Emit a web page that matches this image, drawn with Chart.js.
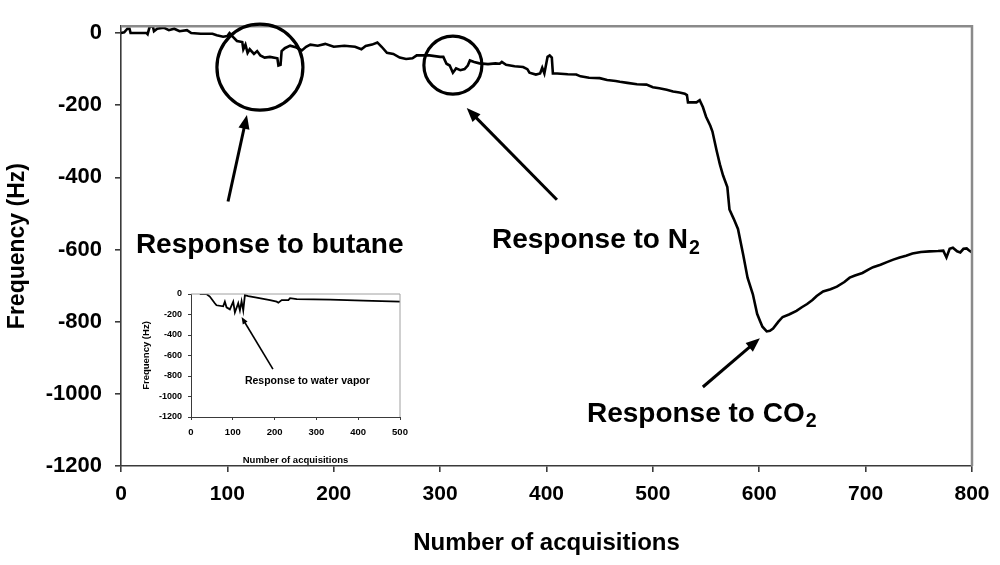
<!DOCTYPE html>
<html><head><meta charset="utf-8">
<script src="https://cdn.jsdelivr.net/npm/chart.js@4.4.1/dist/chart.umd.min.js"></script>
<style>
html,body{margin:0;padding:0;background:#fff;}
#wrap{position:relative;width:1000px;height:565px;overflow:hidden;}
#main{position:absolute;left:0;top:0;}
#inset{position:absolute;left:130px;top:280px;}
</style></head><body>
<div id="wrap"><canvas id="main" width="1000" height="565"></canvas><canvas id="inset" width="290" height="190"></canvas></div>
<script>
// ---- data: main chart ----
const mainX = [0,3,6,8,9,13,24,25,27,30,31,34,40,45,50,55,62,66,75,86,90,96,100,102,105,109,114,115,117,119,121,125,128,131,135,140,147,148,150,151,154,159,165,170,174,178,185,192,200,210,220,226,230,236,241,245,250,256,262,268,274,278,290,300,303,306,309,312,315,319,323,326,328,332,337,345,352,356,358,362,370,378,382,384,390,394,396,398,401,403,405,406,410,420,428,432,440,450,457,465,469,476,485,494,500,506,513,519,525,530,532,533,541,544,547,550,554,556,560,563,566,570,572,576,580,585,589,594,598,601,603,607,610,613,618,622,628,635,640,645,650,654,660,667,673,680,685,690,697,703,707,714,720,726,732,738,744,752,760,768,773,776,779,782,786,789,792,795,797,800];
const mainY = [0,2,12,12,0,0,0,-3,18,18,5,12,15,8,12,5,8,0,-2,-2,-6,-10,-8,0,-10,-22,-25,-45,-32,-55,-45,-58,-50,-62,-68,-66,-70,-90,-88,-50,-42,-35,-40,-48,-38,-32,-35,-30,-38,-35,-38,-45,-36,-32,-26,-38,-55,-58,-68,-72,-70,-62,-62,-66,-66,-85,-90,-110,-98,-103,-100,-90,-76,-80,-84,-86,-84,-85,-80,-88,-92,-94,-100,-110,-115,-112,-96,-112,-66,-62,-68,-112,-112,-114,-115,-120,-124,-125,-130,-133,-135,-138,-142,-143,-150,-153,-157,-162,-165,-168,-172,-192,-192,-186,-205,-232,-257,-273,-327,-364,-395,-427,-489,-515,-543,-616,-678,-724,-778,-800,-814,-827,-825,-819,-800,-787,-780,-770,-760,-751,-740,-729,-716,-710,-703,-690,-678,-672,-665,-655,-649,-642,-635,-628,-622,-617,-611,-607,-605,-604,-603,-622,-598,-595,-605,-608,-598,-597,-602,-608];
const mainXTicks = [0,100,200,300,400,500,600,700,800];
const mainYTicks = [0,-200,-400,-600,-800,-1000,-1200];
// ---- data: inset chart ----
const insetX = [21,37,45,57,61,77,81,85,93,101,105,113,117,121,125,129,137,157,189,205,209,217,233,237,253,333,412,500];
const insetY = [0,0,-25,-90,-110,-120,-75,-130,-150,-75,-180,-90,-160,-70,-160,-10,-20,-35,-60,-75,-85,-60,-60,-40,-50,-55,-65,-75];
const insetXTicks = [0,100,200,300,400,500];
const insetYTicks = [0,-200,-400,-600,-800,-1000,-1200];
// ---- annotations (data coordinates) ----
const mainNotes = [
  {type:'circle', x:130.6, y:-94.6, r:43, lw:3.2},
  {type:'circle', x:312, y:-89, r:29, lw:3.2},
  {type:'arrow', x1:100.6, y1:-467, x2:118.4, y2:-227, lw:3, head:14},
  {type:'arrow', x1:409.8, y1:-462, x2:325, y2:-208, lw:3, head:14},
  {type:'arrow', x1:547, y1:-981, x2:600.6, y2:-846, lw:3, head:14},
  {type:'text', x:14, y:-581, text:'Response to butane', size:28},
  {type:'text', x:348.7, y:-568, text:'Response to N', sub:'2', size:28},
  {type:'text', x:438, y:-1049, text:'Response to CO', sub:'2', size:28}
];
const insetNotes = [
  {type:'arrow', x1:196, y1:-733, x2:121, y2:-225, lw:1.6, head:7},
  {type:'text', x:129, y:-841, text:'Response to water vapor', size:10.5}
];

const FONT = "'Liberation Sans', Arial, Helvetica, sans-serif";

const notesPlugin = {
  id:'notes',
  afterDraw(chart, args, opts){
    const ctx = chart.ctx, xs = chart.scales.x, ys = chart.scales.y;
    const ca = chart.chartArea;
    ctx.save();
    ctx.strokeStyle = opts.frameColor; ctx.lineWidth = opts.frameWidth;
    ctx.beginPath();
    ctx.moveTo(ca.left, ca.top); ctx.lineTo(ca.right, ca.top); ctx.lineTo(ca.right, ca.bottom);
    ctx.stroke();
    ctx.restore();
    (opts.items||[]).forEach(n=>{
      ctx.save();
      ctx.strokeStyle = '#000'; ctx.fillStyle = '#000';
      if(n.type==='circle'){
        ctx.lineWidth = n.lw;
        ctx.beginPath();
        ctx.arc(xs.getPixelForValue(n.x), ys.getPixelForValue(n.y), n.r, 0, Math.PI*2);
        ctx.stroke();
      } else if(n.type==='arrow'){
        const x1=xs.getPixelForValue(n.x1), y1=ys.getPixelForValue(n.y1);
        const x2=xs.getPixelForValue(n.x2), y2=ys.getPixelForValue(n.y2);
        const a = Math.atan2(y2-y1, x2-x1);
        const h = n.head;
        ctx.lineWidth = n.lw;
        ctx.beginPath();
        ctx.moveTo(x1,y1); ctx.lineTo(x2-Math.cos(a)*h*0.7, y2-Math.sin(a)*h*0.7); ctx.stroke();
        ctx.beginPath();
        ctx.moveTo(x2,y2);
        ctx.lineTo(x2-Math.cos(a)*h+Math.sin(a)*h*0.4, y2-Math.sin(a)*h-Math.cos(a)*h*0.4);
        ctx.lineTo(x2-Math.cos(a)*h-Math.sin(a)*h*0.4, y2-Math.sin(a)*h+Math.cos(a)*h*0.4);
        ctx.closePath(); ctx.fill();
      } else if(n.type==='text'){
        const px = xs.getPixelForValue(n.x), py = ys.getPixelForValue(n.y) + n.size*0.36;
        ctx.font = 'bold '+n.size+'px '+FONT;
        ctx.textBaseline = 'alphabetic'; ctx.textAlign = 'left';
        ctx.fillText(n.text, px, py);
        if(n.sub){
          const w = ctx.measureText(n.text).width;
          ctx.font = 'bold '+(n.size*0.7)+'px '+FONT;
          ctx.fillText(n.sub, px+w+1, py+n.size*0.2);
        }
      }
      ctx.restore();
    });
  }
};

function lineChart(id, xs, ys, cfg){
  const pts = xs.map((v,i)=>({x:v, y:ys[i]}));
  return new Chart(document.getElementById(id), {
    type:'scatter',
    data:{datasets:[{data:pts, showLine:true, borderColor:'#000', backgroundColor:'#000', borderWidth:cfg.lw, pointRadius:0, tension:0}]},
    options:{
      responsive:false, animation:false, devicePixelRatio:1,
      layout:{padding:cfg.pad},
      plugins:{legend:{display:false}, tooltip:{enabled:false}, notes:{items:cfg.notes, frameColor:cfg.frameColor, frameWidth:cfg.frameWidth}},
      scales:{
        x:{type:'linear', min:cfg.xmin, max:cfg.xmax,
           afterBuildTicks:s=>{s.ticks = cfg.xticks.map(v=>({value:v}));},
           afterFit:s=>{s.height = cfg.xh;},
           grid:{drawOnChartArea:false, drawTicks:true, tickLength:cfg.tl, color:cfg.axisColor, lineWidth:cfg.axisW},
           border:{display:true, color:cfg.axisColor, width:cfg.axisW},
           ticks:{color:'#000', font:{family:FONT, weight:'bold', size:cfg.xtSize}, padding:cfg.xtPad, maxRotation:0, autoSkip:false, callback:v=>String(v)},
           title:{display:true, text:'Number of acquisitions', color:'#000', font:{family:FONT, weight:'bold', size:cfg.xTitleSize}, padding:{top:0,bottom:cfg.xTitlePad}}
        },
        y:{type:'linear', min:cfg.ymin, max:cfg.ymax,
           afterBuildTicks:s=>{s.ticks = cfg.yticks.map(v=>({value:v}));},
           afterFit:s=>{s.width = cfg.yw;},
           grid:{drawOnChartArea:false, drawTicks:true, tickLength:cfg.tl, color:cfg.axisColor, lineWidth:cfg.axisW},
           border:{display:true, color:cfg.axisColor, width:cfg.axisW},
           ticks:{color:'#000', font:{family:FONT, weight:'bold', size:cfg.ytSize}, padding:cfg.ytPad, autoSkip:false, callback:v=>String(v)},
           title:{display:true, text:'Frequency (Hz)', color:'#000', font:{family:FONT, weight:'bold', size:cfg.yTitleSize}, padding:{top:cfg.yTitlePad,bottom:0}}
        }
      }
    },
    plugins:[notesPlugin]
  });
}

lineChart('main', mainX, mainY, {
  lw:2.6, pad:{left:0, top:15, right:28, bottom:0},
  xmin:0, xmax:800, ymin:-1200, ymax:19, xticks:mainXTicks, yticks:mainYTicks,
  xh:99, yw:121, tl:6, axisColor:'#3a3a3a', axisW:1.6,
  xtSize:21, xtPad:10, ytSize:22, ytPad:13,
  xTitleSize:24, xTitlePad:7, yTitleSize:23, yTitlePad:4,
  frameColor:'#8a8a8a', frameWidth:2.5, notes:mainNotes
});
lineChart('inset', insetX, insetY, {
  lw:1.8, pad:{left:0, top:14, right:20, bottom:0},
  xmin:0, xmax:500, ymin:-1200, ymax:0, xticks:insetXTicks, yticks:insetYTicks,
  xh:53, yw:61, tl:3, axisColor:'#3a3a3a', axisW:1,
  xtSize:9.5, xtPad:7, ytSize:9, ytPad:6,
  xTitleSize:9.5, xTitlePad:4, yTitleSize:9.5, yTitlePad:11,
  frameColor:'#a0a0a0', frameWidth:1, notes:insetNotes
});
</script>
</body></html>
